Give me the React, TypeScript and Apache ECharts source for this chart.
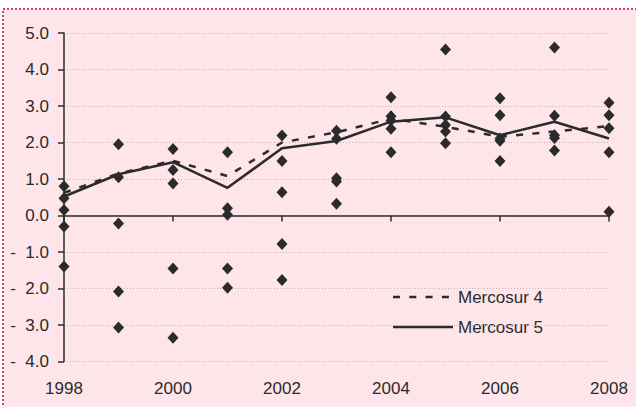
import React, { useEffect, useRef } from "react";
import * as echarts from "echarts";

const years = [1998, 1999, 2000, 2001, 2002, 2003, 2004, 2005, 2006, 2007, 2008];
const mercosur4 = [0.62, 1.15, 1.5, 1.08, 2.0, 2.28, 2.65, 2.43, 2.16, 2.3, 2.45];
const mercosur5 = [0.52, 1.13, 1.46, 0.76, 1.84, 2.04, 2.57, 2.69, 2.2, 2.57, 2.11];
const countryValues: number[][] = [
  [0.8, 0.47, 0.15, -0.3, -1.4],
  [1.95, 1.05, -0.22, -2.08, -3.07],
  [1.82, 1.25, 0.88, -1.45, -3.35],
  [1.73, 0.2, 0.02, -1.45, -1.98],
  [2.19, 1.49, 0.64, -0.78, -1.77],
  [2.32, 2.1, 1.02, 0.93, 0.32],
  [3.24, 2.72, 2.6, 2.38, 1.73],
  [4.55, 2.71, 2.48, 2.3, 1.98],
  [3.21, 2.75, 2.11, 2.05, 1.49],
  [4.6, 2.73, 2.2, 2.12, 1.78],
  [3.09, 2.75, 2.39, 1.73, 0.1],
];
const legendNames = ["Mercosur 4", "Mercosur 5"];
const yMin = -4;
const yMax = 5;

const FONT = "'Liberation Sans', Arial, sans-serif";
const PINK = "#fde5ea";
const INK = "#2b2b2b";
const DASH = [7, 9.3];

export default function App() {
  const ref = useRef<HTMLDivElement>(null);
  useEffect(() => {
    if (!ref.current) return;
    const chart = echarts.init(ref.current, null, { renderer: "svg" });
    const scatterData: number[][] = [];
    years.forEach((y, i) => countryValues[i].forEach((v) => scatterData.push([y, v])));
    chart.setOption({
      animation: false,
      backgroundColor: "#ffffff",
      graphic: [
        {
          type: "rect",
          z: -10,
          silent: true,
          shape: { x: 3, y: 9, width: 700, height: 500 },
          style: { fill: PINK, stroke: "#e0386b", lineWidth: 2, lineDash: [2, 2] },
        },
        {
          type: "group",
          z: 100,
          silent: true,
          children: [
            {
              type: "rect",
              shape: { x: 383, y: 283, width: 172, height: 54 },
              style: { fill: PINK },
            },
            {
              type: "line",
              shape: { x1: 393, y1: 297, x2: 453, y2: 297 },
              style: { stroke: INK, lineWidth: 2.5, lineDash: DASH },
            },
            {
              type: "text",
              x: 458,
              y: 297,
              style: {
                text: legendNames[0],
                fontFamily: FONT,
                fontSize: 17,
                fill: INK,
                verticalAlign: "middle",
                align: "left",
              },
            },
            {
              type: "line",
              shape: { x1: 393, y1: 327, x2: 453, y2: 327 },
              style: { stroke: INK, lineWidth: 2.5 },
            },
            {
              type: "text",
              x: 458,
              y: 327,
              style: {
                text: legendNames[1],
                fontFamily: FONT,
                fontSize: 17,
                fill: INK,
                verticalAlign: "middle",
                align: "left",
              },
            },
          ],
        },
      ],
      grid: { left: 64, right: 27, top: 33, bottom: 45.5 },
      xAxis: [
        {
          type: "value",
          min: 1998,
          max: 2008,
          interval: 2,
          axisLine: { onZero: true, lineStyle: { color: INK, width: 1.5 } },
          axisTick: { show: true, length: 6, lineStyle: { color: INK, width: 1.5 } },
          axisLabel: { show: false },
          splitLine: { show: false },
        },
        {
          type: "value",
          min: 1998,
          max: 2008,
          interval: 2,
          position: "bottom",
          axisLine: { show: false, onZero: false },
          axisTick: { show: false },
          axisLabel: {
            margin: 18,
            fontFamily: FONT,
            fontSize: 17,
            color: INK,
            formatter: (v: number) => String(v),
          },
          splitLine: { show: false },
        },
      ],
      yAxis: {
        type: "value",
        min: yMin,
        max: yMax,
        interval: 1,
        axisLine: { show: true, onZero: false, lineStyle: { color: INK, width: 1.5 } },
        axisTick: { show: true, length: 6, lineStyle: { color: INK, width: 1.5 } },
        axisLabel: {
          margin: 15,
          fontFamily: FONT,
          fontSize: 17,
          color: INK,
          formatter: (v: number) =>
            v < 0 ? "-\u00a0\u00a0" + Math.abs(v).toFixed(1) : v.toFixed(1),
        },
        splitLine: { show: true, lineStyle: { color: "#c4b3b7", type: [1, 2], width: 1 } },
      },
      series: [
        {
          name: "Countries",
          type: "scatter",
          xAxisIndex: 0,
          symbol: "diamond",
          symbolSize: [11, 12],
          itemStyle: { color: INK, opacity: 1 },
          data: scatterData,
          z: 3,
        },
        {
          name: legendNames[0],
          type: "line",
          xAxisIndex: 0,
          symbol: "none",
          lineStyle: { color: INK, width: 2.5, type: DASH },
          itemStyle: { color: INK },
          data: years.map((y, i) => [y, mercosur4[i]]),
          z: 2,
        },
        {
          name: legendNames[1],
          type: "line",
          xAxisIndex: 0,
          symbol: "none",
          lineStyle: { color: INK, width: 2.5, type: "solid" },
          itemStyle: { color: INK },
          data: years.map((y, i) => [y, mercosur5[i]]),
          z: 2,
        },
      ],
    });
    return () => chart.dispose();
  }, []);
  return (
    <div
      ref={ref}
      style={{ position: "fixed", left: 0, top: 0, width: 636, height: 407 }}
    />
  );
}
